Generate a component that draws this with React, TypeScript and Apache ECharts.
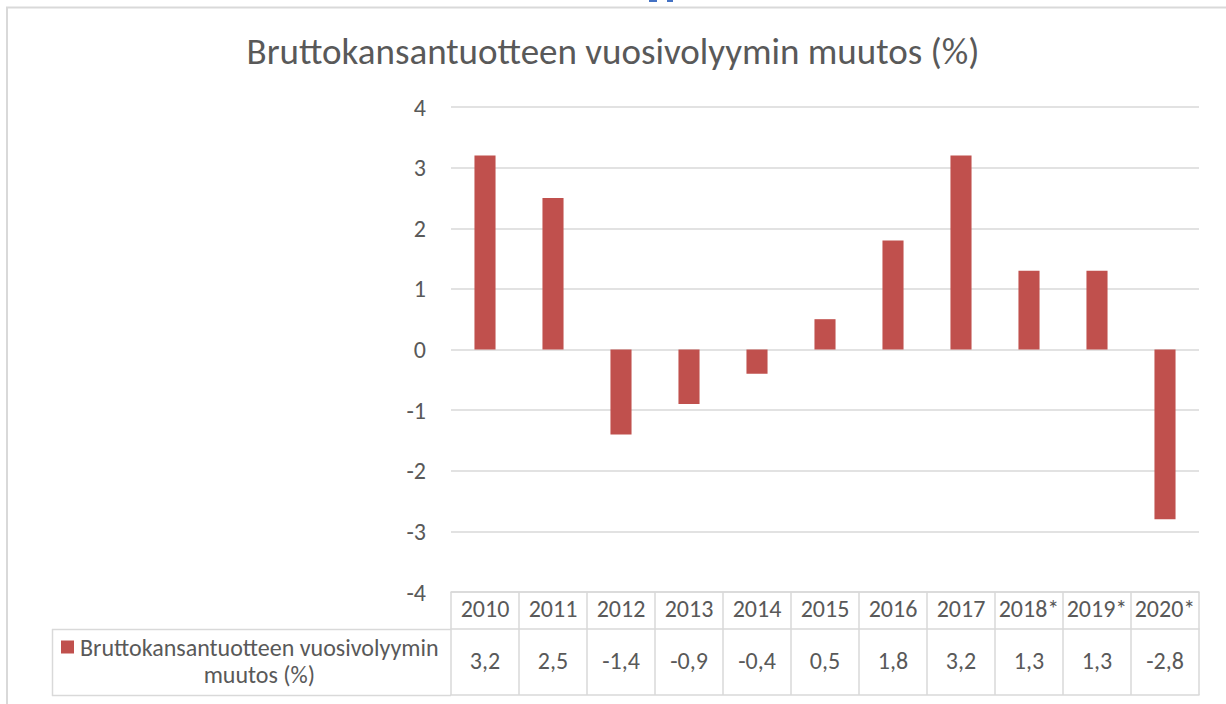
import React, { useEffect, useRef } from "react";
import * as echarts from "echarts";

const chartTitle = "Bruttokansantuotteen vuosivolyymin muutos (%)";
const seriesName = "Bruttokansantuotteen vuosivolyymin muutos (%)";
const years = ["2010", "2011", "2012", "2013", "2014", "2015", "2016", "2017", "2018*", "2019*", "2020*"];
const values = [3.2, 2.5, -1.4, -0.9, -0.4, 0.5, 1.8, 3.2, 1.3, 1.3, -2.8];
const yMin = -4;
const yMax = 4;
const yInterval = 1;

const FONT = "Carlito, Lato, 'Noto Sans', sans-serif";
const TEXT = "#595959";
const LINE = "#D9D9D9";
const BAR = "#C0504D";

const fmt = (v: number) => String(v).replace(".", ",");

export default function App() {
  const ref = useRef<HTMLDivElement>(null);
  useEffect(() => {
    if (!ref.current) return;
    const chart = echarts.init(ref.current, null, { renderer: "svg" });
    chart.setOption({
      animation: false,
      backgroundColor: "#ffffff",
      textStyle: { fontFamily: FONT },
      title: {
        text: chartTitle,
        left: "center",
        top: 28,
        textStyle: { fontFamily: FONT, fontSize: 37, fontWeight: 300, color: TEXT },
      },
      grid: { left: 451, right: 27, top: 107, bottom: 112, containLabel: false },
      legend: {
        left: 51,
        top: 630,
        selectedMode: false,
        icon: "none",
        itemWidth: 0,
        itemHeight: 0,
        data: [seriesName],
        formatter: () => "{sq|}{sp|}{a|Bruttokansantuotteen vuosivolyymin}\n{pad|}{a|muutos (%)}",
        textStyle: {
          fontFamily: FONT,
          fontSize: 24,
          color: TEXT,
          rich: {
            sq: { width: 13, height: 13, backgroundColor: BAR },
            sp: { width: 6 },
            pad: { width: 19 },
            a: { fontFamily: FONT, fontSize: 24, color: TEXT, lineHeight: 27, align: "center" },
          },
        },
      },
      xAxis: [
        {
          type: "category",
          data: years,
          position: "bottom",
          axisLine: { show: true, onZero: false, lineStyle: { color: LINE, width: 1.5 } },
          axisTick: { show: true, interval: 0, length: 103, lineStyle: { color: LINE, width: 1.5 } },
          axisLabel: { interval: 0, margin: 4, fontSize: 24, color: TEXT, fontFamily: FONT },
          splitLine: { show: false },
        },
        {
          type: "category",
          data: values.map(fmt),
          position: "bottom",
          offset: 37,
          axisLine: { show: true, onZero: false, lineStyle: { color: LINE, width: 1.5 } },
          axisTick: { show: false },
          axisLabel: { interval: 0, margin: 19, fontSize: 24, color: TEXT, fontFamily: FONT },
        },
        {
          type: "category",
          data: years,
          position: "bottom",
          offset: 103,
          axisLine: { show: true, onZero: false, lineStyle: { color: LINE, width: 1.5 } },
          axisTick: { show: false },
          axisLabel: { show: false },
        },
      ],
      yAxis: {
        type: "value",
        min: yMin,
        max: yMax,
        interval: yInterval,
        axisLine: { show: false },
        axisTick: { show: false },
        splitLine: { lineStyle: { color: LINE, width: 1.5 } },
        axisLabel: { margin: 25, fontSize: 24, color: TEXT, fontFamily: FONT },
      },
      series: [
        {
          type: "bar",
          name: seriesName,
          xAxisIndex: 0,
          data: values,
          barWidth: "31%",
          itemStyle: { color: BAR },
        },
      ],
      graphic: [
        {
          type: "line",
          shape: { x1: 6, y1: 7.5, x2: 1226, y2: 7.5 },
          style: { stroke: LINE, lineWidth: 2 },
          silent: true,
        },
        {
          type: "line",
          shape: { x1: 7, y1: 7, x2: 7, y2: 704 },
          style: { stroke: LINE, lineWidth: 2 },
          silent: true,
        },
        {
          type: "rect",
          shape: { x: 649, y: 0, width: 8, height: 2 },
          style: { fill: "#4472C4" },
          silent: true,
        },
        {
          type: "rect",
          shape: { x: 667, y: 0, width: 6, height: 2 },
          style: { fill: "#4472C4" },
          silent: true,
        },
        {
          type: "line",
          shape: { x1: 52, y1: 629.5, x2: 451, y2: 629.5 },
          style: { stroke: LINE, lineWidth: 1.5 },
          silent: true,
        },
        {
          type: "line",
          shape: { x1: 52, y1: 695.5, x2: 451, y2: 695.5 },
          style: { stroke: LINE, lineWidth: 1.5 },
          silent: true,
        },
        {
          type: "line",
          shape: { x1: 52.5, y1: 629, x2: 52.5, y2: 696 },
          style: { stroke: LINE, lineWidth: 1.5 },
          silent: true,
        },
      ],
    });
    return () => chart.dispose();
  }, []);
  return (
    <div
      ref={ref}
      style={{ position: "fixed", left: 0, top: 0, width: 1226, height: 704 }}
    />
  );
}
